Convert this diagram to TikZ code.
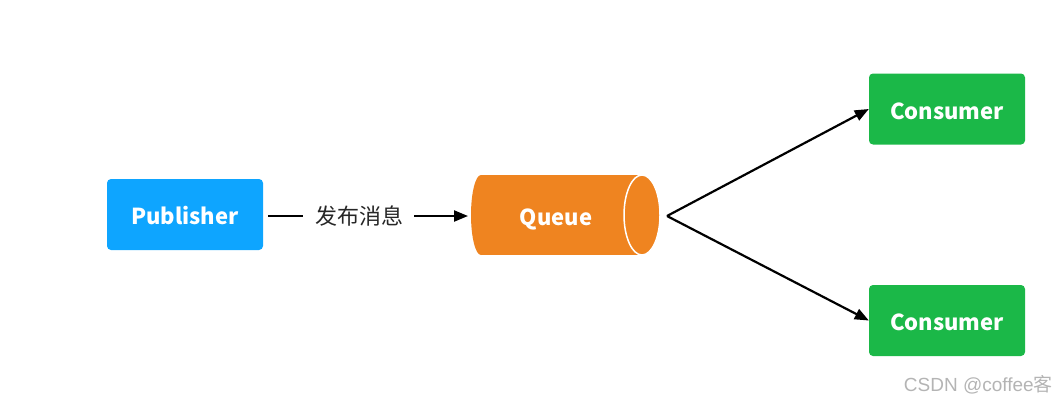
\documentclass[tikz,border=0pt]{standalone}
\usepackage{fontspec}
\setmainfont{Noto Sans CJK SC}
\newfontfamily\wmfont{Liberation Sans}
\usetikzlibrary{arrows.meta}
\definecolor{pubblue}{HTML}{0EA5FF}
\definecolor{qorange}{HTML}{EF8420}
\definecolor{congreen}{HTML}{1BB848}
\definecolor{wmgray}{HTML}{B4B4B4}
\newcommand{\lowtxt}[1]{\raisebox{-10pt}[0pt][0pt]{#1}}
\tikzset{
  box/.style={rounded corners=4pt, minimum width=156pt, minimum height=71pt, inner sep=0pt, text=white, font=\fontsize{22}{24}\selectfont\bfseries},
  conn/.style={line width=2.2pt, -{Triangle[length=14pt,width=11pt]}},
}
\begin{document}
\begin{tikzpicture}[x=1pt,y=-1pt]
\useasboundingbox (0,0) rectangle (1056,402);
\node[box, fill=pubblue] (pub) at (185,214.5) {\lowtxt{Publisher}};
\node[box, fill=congreen] (c1) at (947,109) {\lowtxt{Consumer}};
\node[box, fill=congreen] (c2) at (947,320.5) {\lowtxt{Consumer}};
% queue cylinder
\fill[qorange] (481,215) ellipse[x radius=10, y radius=40];
\fill[qorange] (481,175) rectangle (642,255);
\fill[qorange] (642,215) ellipse[x radius=18, y radius=40];
\draw[white, line width=1.5pt] (642,215) ellipse[x radius=18, y radius=40];
\node[inner sep=0pt, minimum width=189pt, minimum height=80pt, text=white, font=\fontsize{22}{24}\selectfont\bfseries] (queue) at (556,215) {\lowtxt{Queue}};
\coordinate (qin) at (468,216);
\coordinate (qout) at (667,216);
\node[font=\fontsize{22}{24}\selectfont, text=black!85, inner sep=0pt] (lbl) at (359,216) {发布消息};
\draw[line width=2.2pt] ([xshift=5pt]lbl.west -| pub.east) -- ([xshift=-12pt]lbl.west);
\draw[conn] ([xshift=11pt]lbl.east) -- (qin);
\draw[conn] (qout) -- (c1.west);
\draw[conn] (qout) -- (c2.west);
\node[text=wmgray, font=\wmfont\fontsize{19}{22}\selectfont, anchor=east, inner sep=0pt] (wm) at (1053,385) {CSDN @coffee\normalfont\fontsize{19}{22}\selectfont 客};
\end{tikzpicture}
\end{document}
